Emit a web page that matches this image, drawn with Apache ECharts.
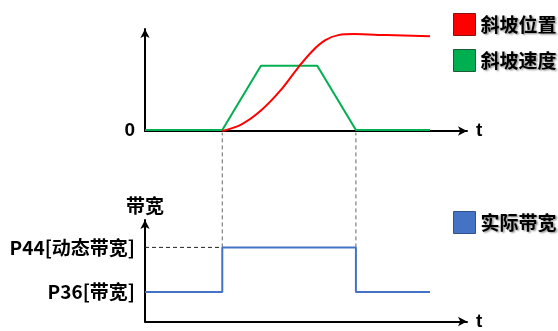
<!DOCTYPE html>
<html>
<head>
<meta charset="utf-8">
<script src="https://cdn.jsdelivr.net/npm/echarts@6/dist/echarts.min.js"></script>
<style>
  html, body { margin: 0; padding: 0; background: #fff; }
  #main { width: 558px; height: 331px; }
</style>
</head>
<body>
<div id="main"></div>
<script>
// time axis runs 0..100, value axes 0..100
var timeMax = 100
var edgeTimes = [24, 65.5]   // where the ramp starts / ends

var posName = '斜坡位置'
var posData = [[24, 0], [30, 6.5], [36, 20], [42, 39.5], [47.5, 62], [52, 78.5],
  [56, 89], [60, 94], [65, 95], [75, 94], [88.5, 93]]

var speedName = '斜坡速度'
var speedData = [[0, 1], [24, 1], [36, 64], [53.5, 64], [65.5, 1], [88.5, 1]]

var bwName = '实际带宽'
var bwData = [[0, 29], [24, 29], [24, 73], [65.5, 73], [65.5, 29], [88.5, 29]]
var bwTickValues = [29, 73]
var bwTickLabels = ['P36[带宽]', 'P44[动态带宽]']
var bwTop = 186   // top chart's time axis, in bottom-chart units

var cjk = 'Noto Sans CJK SC'
var shadowText = {
  color: '#000', fontSize: 19, fontWeight: 'bold', fontFamily: cjk,
  textShadowColor: 'rgba(0,0,0,0.45)', textShadowBlur: 2,
  textShadowOffsetX: 1.5, textShadowOffsetY: 1.5
}
var axisLine = {
  show: true,
  symbol: ['none', 'arrow'],
  symbolSize: [7, 9],
  lineStyle: { color: '#000', width: 2 }
}

var chart = echarts.init(document.getElementById('main'))

function timeAxis(gridIndex, name) {
  return {
    type: 'value', gridIndex: gridIndex, min: 0, max: timeMax,
    name: name, nameLocation: 'end', nameGap: 9,
    nameTextStyle: { color: '#000', fontSize: 19, fontFamily: 'Liberation Sans', fontWeight: 'bold' },
    axisLine: axisLine,
    axisTick: { show: false }, axisLabel: { show: false }, splitLine: { show: false }
  }
}

var option = {
  animation: false,
  backgroundColor: '#fff',
  grid: [
    { left: 145, top: 29, width: 322, height: 102 },
    { left: 145, top: 220, width: 322, height: 103 }
  ],
  legend: [
    {
      left: 448, top: 8, orient: 'vertical', icon: 'rect',
      itemWidth: 22, itemHeight: 22, itemGap: 13,
      itemStyle: { borderWidth: 1 },
      textStyle: shadowText,
      data: [posName, speedName]
    },
    {
      left: 448, top: 206, orient: 'vertical', icon: 'rect',
      itemWidth: 22, itemHeight: 22,
      itemStyle: { borderWidth: 1 },
      textStyle: shadowText,
      data: [bwName]
    }
  ],
  xAxis: [timeAxis(0, 't'), timeAxis(1, 't')],
  yAxis: [
    {
      type: 'value', gridIndex: 0, min: 0, max: 100,
      axisLine: axisLine,
      axisTick: { show: false }, splitLine: { show: false },
      axisLabel: {
        customValues: [0], margin: 10,
        color: '#000', fontSize: 19, fontWeight: 'bold', fontFamily: 'Liberation Sans'
      }
    },
    {
      type: 'value', gridIndex: 1, min: 0, max: 100,
      name: '带宽', nameLocation: 'end', nameGap: 5,
      nameTextStyle: { color: '#000', fontSize: 19, fontWeight: 'bold', fontFamily: cjk, align: 'center' },
      axisLine: axisLine,
      axisTick: { show: false }, splitLine: { show: false },
      axisLabel: {
        customValues: bwTickValues, margin: 10,
        color: '#000', fontSize: 19, fontWeight: 'bold', fontFamily: cjk,
        formatter: function (v) { return bwTickLabels[bwTickValues.indexOf(v)] }
      }
    }
  ],
  series: [
    {
      name: posName, type: 'line', xAxisIndex: 0, yAxisIndex: 0,
      data: posData, smooth: 0.35, showSymbol: false, z: 4,
      lineStyle: { color: '#FF0000', width: 2 },
      itemStyle: { color: '#FF0000', borderColor: '#8B1010' }
    },
    {
      name: speedName, type: 'line', xAxisIndex: 0, yAxisIndex: 0,
      data: speedData, showSymbol: false, z: 3,
      lineStyle: { color: '#00B050', width: 2 },
      itemStyle: { color: '#00B050', borderColor: '#1E5A35' }
    },
    {
      type: 'line', xAxisIndex: 1, yAxisIndex: 1, clip: false, silent: true,
      data: [[edgeTimes[0], bwTickValues[1]], [edgeTimes[0], bwTop]],
      showSymbol: false, z: 1,
      lineStyle: { color: '#666', width: 1, type: [4, 3] }
    },
    {
      type: 'line', xAxisIndex: 1, yAxisIndex: 1, clip: false, silent: true,
      data: [[edgeTimes[1], bwTickValues[1]], [edgeTimes[1], bwTop]],
      showSymbol: false, z: 1,
      lineStyle: { color: '#666', width: 1, type: [4, 3] }
    },
    {
      type: 'line', xAxisIndex: 1, yAxisIndex: 1, silent: true,
      data: [[0, bwTickValues[1]], [edgeTimes[0], bwTickValues[1]]],
      showSymbol: false, z: 1,
      lineStyle: { color: '#222', width: 1, type: [4, 3] }
    },
    {
      name: bwName, type: 'line', xAxisIndex: 1, yAxisIndex: 1,
      data: bwData, showSymbol: false, z: 3,
      lineStyle: { color: '#4472C4', width: 2 },
      itemStyle: { color: '#4472C4', borderColor: '#2F528F' }
    }
  ]
}
option && chart.setOption(option)
</script>
</body>
</html>
